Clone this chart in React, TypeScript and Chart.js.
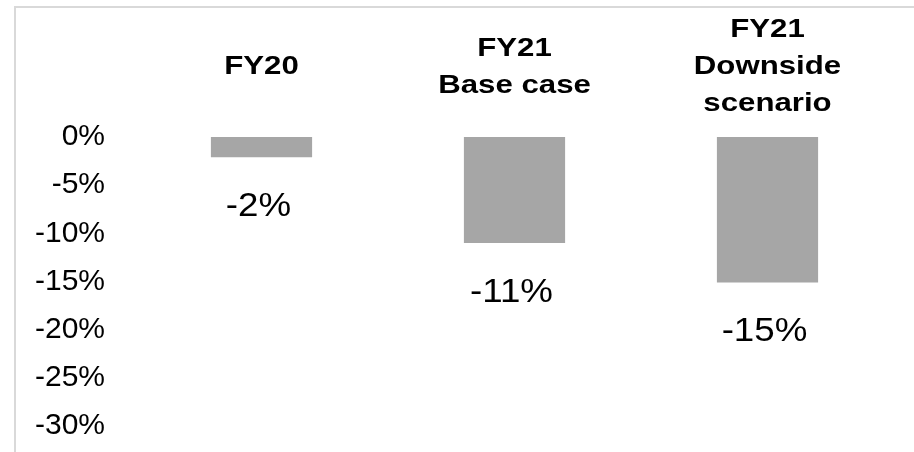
import React, { useEffect, useRef } from "react";
import { Chart, registerables } from "chart.js";

Chart.register(...registerables);

const categories: string[][] = [["FY20"], ["FY21", "Base case"], ["FY21", "Downside", "scenario"]];
const values: number[] = [-2.1, -11.0, -15.1];
const valueLabels: string[] = ["-2%", "-11%", "-15%"];
const yMin = -30;
const yMax = 0;
const yStep = 5;

const FONT = "'Liberation Sans', Arial, Helvetica, sans-serif";

function drawStretched(ctx: CanvasRenderingContext2D, text: string, x: number, y: number, sx: number) {
  ctx.save();
  ctx.translate(x, y);
  ctx.scale(sx, 1);
  ctx.fillText(text, 0, 0);
  ctx.restore();
}

const decorPlugin = {
  id: "decor",
  beforeDraw(chart: any) {
    const ctx = chart.ctx as CanvasRenderingContext2D;
    ctx.save();
    ctx.fillStyle = "#d9d9d9";
    ctx.fillRect(14, 6, chart.width - 14, 2);
    ctx.fillRect(14, 6, 2, chart.height - 6);
    ctx.restore();
  },
  afterDatasetsDraw(chart: any) {
    const ctx = chart.ctx as CanvasRenderingContext2D;
    const xs = chart.scales.x;
    const top = chart.chartArea.top;
    ctx.save();
    ctx.fillStyle = "#000000";
    ctx.textAlign = "center";
    ctx.textBaseline = "alphabetic";
    ctx.font = `bold 26px ${FONT}`;
    const lineH = 37;
    categories.forEach((lines, i) => {
      const x = xs.getPixelForValue(i);
      const n = lines.length;
      const c = top - 72;
      lines.forEach((t, j) => {
        const y = c + (j - (n - 1) / 2) * lineH + 9.3;
        drawStretched(ctx, t, x, y, 1.2);
      });
    });
    ctx.font = `34px ${FONT}`;
    const meta = chart.getDatasetMeta(0);
    meta.data.forEach((bar: any, i: number) => {
      drawStretched(ctx, valueLabels[i], bar.x - 3, bar.y + 47 + 12, 1.08);
    });
    ctx.restore();
  },
};

export default function App() {
  const canvasRef = useRef<HTMLCanvasElement | null>(null);

  useEffect(() => {
    document.body.style.margin = "0";
    const canvas = canvasRef.current;
    if (!canvas) return;
    const chart = new Chart(canvas, {
      type: "bar",
      data: {
        labels: categories.map((c) => c.join(" ")),
        datasets: [
          {
            data: values,
            backgroundColor: "#a6a6a6",
            borderWidth: 0,
            categoryPercentage: 1,
            barPercentage: 0.4,
          },
        ],
      },
      options: {
        animation: false,
        responsive: true,
        maintainAspectRatio: false,
        layout: { padding: { top: 137, bottom: 26, left: 0, right: 20 } },
        plugins: {
          legend: { display: false },
          tooltip: { enabled: false },
          title: { display: false },
        },
        scales: {
          x: {
            display: false,
          },
          y: {
            min: yMin,
            max: yMax,
            grid: { display: false, drawTicks: false },
            border: { display: false },
            afterFit: (scale: any) => {
              scale.width = 135;
              scale.paddingTop = 0;
              scale.paddingBottom = 0;
            },
            ticks: {
              stepSize: yStep,
              padding: 30,
              color: "#000000",
              font: { family: FONT, size: 30 },
              callback: (v: any) => `${v}%`,
            },
          },
        },
      },
      plugins: [decorPlugin],
    });
    return () => chart.destroy();
  }, []);

  return (
    <div style={{ position: "relative", width: 914, height: 452 }}>
      <canvas ref={canvasRef} />
    </div>
  );
}
